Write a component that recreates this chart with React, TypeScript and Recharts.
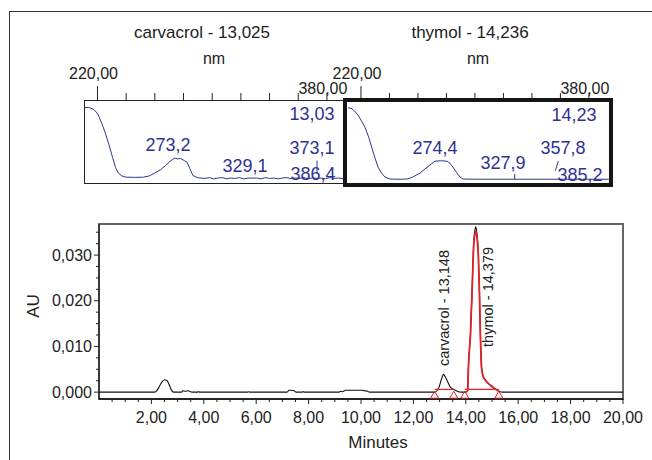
import React from "react";
import {
  ComposedChart,
  LineChart,
  Line,
  Scatter,
  XAxis,
  YAxis,
  ReferenceArea,
  ReferenceLine,
  ReferenceDot,
} from "recharts";

const FONT = '"Liberation Sans", Arial, Helvetica, sans-serif';
const INK = "#222";
const BLUE = "#2b3990";
const LABEL_BLUE = "#2e3192";
const RED = "#e0222b";

// chromatogram, black trace (minutes / AU)
const chromTime = [
  0, 2.1, 2.2, 2.3, 2.4, 2.5, 2.6, 2.68, 2.76, 2.85, 3.15, 3.2, 3.3, 3.4, 3.48, 3.55,
  3.76, 3.8, 3.84, 5.68, 5.71, 5.74, 7.18, 7.25, 7.35, 7.45, 7.52, 7.75, 7.79, 7.83,
  9.15, 9.22, 9.3, 9.4, 9.6, 9.9, 10.05, 10.15, 10.25, 10.32,
  12.81, 12.98, 13.08, 13.148, 13.22, 13.3, 13.41, 13.6, 13.8,
  13.95, 14.07, 14.1, 14.18, 14.25, 14.3, 14.34, 14.379, 14.42, 14.48, 14.52, 14.56,
  14.6, 14.66, 14.75, 14.94, 15.1, 15.26, 15.4, 20,
];
const chromAU = [
  0, 0, 0.0003, 0.0012, 0.0022, 0.0027, 0.0025, 0.0016, 0.0005, 0, 0, 0.0003, 0.0002, 0.0003, 0.0001, 0,
  0, 0.00015, 0, 0, 0.0001, 0, 0, 0.0004, 0.0004, 0.0003, 0, 0, 0.00015, 0,
  0, 0.0002, 0.0001, 0.0004, 0.0004, 0.0004, 0.0004, 0.0003, 0.0002, 0,
  0, 0.0011, 0.0030, 0.0039, 0.0033, 0.0024, 0.0011, 0.0004, 0,
  0, 0.0002, 0.0055, 0.0129, 0.0239, 0.0326, 0.0352, 0.0362, 0.0350, 0.0300, 0.0220, 0.0120,
  0.0055, 0.0035, 0.0026, 0.0015, 0.0008, 0.0002, 0, 0,
];

// thymol peak, red trace
const thymolTime = [
  13.95, 14.07, 14.1, 14.18, 14.25, 14.3, 14.34, 14.379, 14.42, 14.48, 14.52, 14.56,
  14.6, 14.66, 14.75, 14.94, 15.1, 15.26,
];
const thymolAU = [
  0, 0.0002, 0.0055, 0.0129, 0.0239, 0.0320, 0.0344, 0.0352, 0.0342, 0.0296, 0.0218, 0.0118,
  0.0055, 0.0035, 0.0026, 0.0015, 0.0008, 0.0002,
];

// integration start / end markers
const markTime = [12.81, 13.54, 13.96, 15.26];
const carvBaseline = [12.81, 13.54];
const thymBaseline = [13.96, 15.26];

const xMajor = [2, 4, 6, 8, 10, 12, 14, 16, 18, 20];
const xTicks = [
  0.5, 1, 1.5, 2, 2.5, 3, 3.5, 4, 4.5, 5, 5.5, 6, 6.5, 7, 7.5, 8, 8.5, 9, 9.5, 10,
  10.5, 11, 11.5, 12, 12.5, 13, 13.5, 14, 14.5, 15, 15.5, 16, 16.5, 17, 17.5, 18, 18.5, 19, 19.5, 20,
];
const yMajor = [0, 0.01, 0.02, 0.03];
const yTicks = [
  0, 0.0025, 0.005, 0.0075, 0.01, 0.0125, 0.015, 0.0175, 0.02, 0.0225, 0.025, 0.0275,
  0.03, 0.0325, 0.035,
];

// UV spectra (nm / relative absorbance)
const carvNm = [
  210.8, 214, 217, 219, 220.5, 223, 225.5, 228, 230.5, 232.5, 234.5, 237, 240, 246, 252, 256,
  260, 264, 267.5, 270.5, 272.5, 274, 276, 278, 280.5, 282.5, 284.5, 286.5, 289.5,
  292, 295, 298, 301, 304, 307, 310, 313, 316, 319, 322, 325, 328, 331, 334, 337, 340,
  343, 346, 349, 352, 355, 358, 361, 364, 367, 370, 373, 376, 379, 382, 385, 388, 392,
];
const carvAbs = [
  0.91, 0.91, 0.89, 0.86, 0.82, 0.72, 0.6, 0.46, 0.31, 0.19, 0.12, 0.085, 0.07, 0.068, 0.07, 0.085,
  0.12, 0.16, 0.21, 0.26, 0.285, 0.3, 0.29, 0.295, 0.27, 0.25, 0.17, 0.09, 0.065,
  0.06, 0.055, 0.065, 0.05, 0.06, 0.065, 0.05, 0.06, 0.055, 0.065, 0.05, 0.06, 0.058, 0.06, 0.05, 0.065, 0.055,
  0.06, 0.05, 0.06, 0.065, 0.052, 0.06, 0.055, 0.065, 0.05, 0.062, 0.055, 0.06, 0.05, 0.065, 0.055, 0.06, 0.05,
];
const thymNm = [
  211, 213, 215.5, 218, 220.5, 222.8, 225.5, 227.7, 230, 232, 234.5, 236.8, 240.4, 246, 252.3,
  256, 261.4, 265, 268.4, 271.9, 276, 280.4, 282.5, 284.6, 287, 289.5, 291.6, 300, 394,
];
const thymAbs = [
  0.906, 0.905, 0.87, 0.82, 0.75, 0.68, 0.56, 0.435, 0.31, 0.21, 0.14, 0.094, 0.07, 0.068, 0.07,
  0.09, 0.14, 0.19, 0.235, 0.28, 0.285, 0.28, 0.255, 0.21, 0.15, 0.094, 0.07, 0.068, 0.068,
];
const nmTicks = [220, 240, 260, 280, 300, 320, 340, 360, 380];
const nmLabelled = [220, 380];

const zip = (xs: number[], ys: number[], kx: string, ky: string) =>
  xs.map((x, i) => ({ [kx]: x, [ky]: ys[i] }));

const chromData = zip(chromTime, chromAU, "t", "v");
const thymolData = zip(thymolTime, thymolAU, "t", "v");
const markData = markTime.map((t) => ({ t, v: -0.00055 }));
const carvSpec = zip(carvNm, carvAbs, "nm", "a");
const thymSpec = zip(thymNm, thymAbs, "nm", "a");

const comma = (v: number, d: number) => v.toFixed(d).replace(".", ",");

function MinuteTick(props: any) {
  const { x, y, payload } = props;
  const major = xMajor.includes(payload.value);
  return (
    <g>
      <line x1={x} x2={x} y1={y} y2={y + (major ? 5 : 3)} stroke={INK} />
      {major && (
        <text x={x} y={y + 13} dy="0.71em" textAnchor="middle" fontSize={16} fill={INK} fontFamily={FONT}>
          {comma(payload.value, 2)}
        </text>
      )}
    </g>
  );
}

function AuTick(props: any) {
  const { x, y, payload } = props;
  const major = yMajor.includes(payload.value);
  return (
    <g>
      <line x1={x} x2={x - (major ? 5 : 3)} y1={y} y2={y} stroke={INK} />
      {major && (
        <text x={x - 7} y={y} dy="0.35em" textAnchor="end" fontSize={16} fill={INK} fontFamily={FONT}>
          {comma(payload.value, 3)}
        </text>
      )}
    </g>
  );
}

function NmTick(props: any) {
  const { x, y, payload } = props;
  const v = payload.value;
  const first = v === nmLabelled[0];
  const labelled = nmLabelled.includes(v);
  return (
    <g>
      <line x1={x} x2={x} y1={y} y2={y - (first ? 14 : 7)} stroke={INK} />
      {labelled && (
        <text x={x - 4} y={y - (first ? 27 : 12)} dy="0.35em" textAnchor="middle" fontSize={16} fill={INK} fontFamily={FONT}>
          {comma(v, 2)}
        </text>
      )}
    </g>
  );
}

function PeakTag(props: any) {
  const { viewBox, text, shift = 0 } = props;
  const cx = viewBox.x + (viewBox.width || 0) / 2 + shift;
  const cy = viewBox.y + (viewBox.height || 0) / 2;
  return (
    <text
      x={cx}
      y={cy}
      dy="0.35em"
      transform={`rotate(-90 ${cx} ${cy})`}
      textAnchor="start"
      fontSize={14.5}
      fill={INK}
      fontFamily={FONT}
    >
      {text}
    </text>
  );
}

function Triangle(props: any) {
  const { cx, cy } = props;
  return <path d={`M${cx},${cy - 3.5}L${cx + 4},${cy + 3.5}L${cx - 4},${cy + 3.5}Z`} fill="none" stroke={RED} strokeWidth={1} />;
}

function Tag({ x, y, children, size = 16, color = INK, rotate = 0 }: any) {
  return (
    <div
      style={{
        position: "absolute",
        left: x,
        top: y,
        transform: `translate(-50%, -50%)${rotate ? ` rotate(${rotate}deg)` : ""}`,
        fontSize: size,
        color,
        lineHeight: 1,
        whiteSpace: "nowrap",
      }}
    >
      {children}
    </div>
  );
}

export default function App() {
  return (
    <div
      style={{
        position: "absolute",
        left: 0,
        top: 0,
        width: 652,
        height: 460,
        overflow: "hidden",
        background: "#fff",
        fontFamily: FONT,
      }}
    >
      {/* outer frame */}
      <div style={{ position: "absolute", left: 9, top: 11, width: 700, height: 500, border: "1px solid #333" }} />

      {/* carvacrol spectrum */}
      <div style={{ position: "absolute", left: 0, top: 0 }}>
        <LineChart width={652} height={200} margin={{ top: 60, right: 307, bottom: 17, left: 84 }}>
          <XAxis
            dataKey="nm"
            type="number"
            orientation="top"
            domain={[210.6, 392.6]}
            ticks={nmTicks}
            interval={0}
            height={40}
            tickSize={0}
            tickMargin={0}
            tickLine={false}
            axisLine={false}
            tick={<NmTick />}
            allowDataOverflow
          />
          <YAxis hide domain={[0, 1]} allowDataOverflow />
          <Line data={carvSpec} dataKey="a" type="linear" stroke={BLUE} strokeWidth={1} dot={false} activeDot={false} isAnimationActive={false} />
          <ReferenceLine segment={[{ x: 373.1, y: 0.12 }, { x: 373.1, y: 0.27 }]} stroke={BLUE} />
        </LineChart>
      </div>
      <div style={{ position: "absolute", left: 84, top: 100, width: 262, height: 84, border: "1px solid #222", boxSizing: "border-box" }} />

      {/* thymol spectrum */}
      <div style={{ position: "absolute", left: 343, top: 98, width: 270, height: 89, background: "#fff" }} />
      <div style={{ position: "absolute", left: 0, top: 0 }}>
        <LineChart width={652} height={200} margin={{ top: 60, right: 42, bottom: 15, left: 346 }}>
          <XAxis
            dataKey="nm"
            type="number"
            orientation="top"
            domain={[209.5, 394.8]}
            ticks={nmTicks}
            interval={0}
            height={40}
            tickSize={0}
            tickMargin={0}
            tickLine={false}
            axisLine={false}
            tick={<NmTick />}
            allowDataOverflow
          />
          <YAxis hide domain={[0, 1]} allowDataOverflow />
          <Line data={thymSpec} dataKey="a" type="linear" stroke={BLUE} strokeWidth={1} dot={false} activeDot={false} isAnimationActive={false} />
          <ReferenceLine segment={[{ x: 327.9, y: 0.07 }, { x: 327.9, y: 0.13 }]} stroke={BLUE} />
          <ReferenceLine segment={[{ x: 356.5, y: 0.17 }, { x: 358.5, y: 0.28 }]} stroke={BLUE} />
        </LineChart>
      </div>
      <div style={{ position: "absolute", left: 343, top: 98, width: 270, height: 89, border: "4.5px solid #151515", boxSizing: "border-box" }} />

      {/* spectrum titles and labels */}
      <Tag x={202} y={32} size={17}>carvacrol - 13,025</Tag>
      <Tag x={470} y={32} size={17}>thymol - 14,236</Tag>
      <Tag x={214} y={59} size={16}>nm</Tag>
      <Tag x={478} y={59} size={16}>nm</Tag>

      <Tag x={312} y={114} size={18} color={LABEL_BLUE}>13,03</Tag>
      <Tag x={168} y={145} size={18} color={LABEL_BLUE}>273,2</Tag>
      <Tag x={312} y={148} size={18} color={LABEL_BLUE}>373,1</Tag>
      <Tag x={245} y={166} size={18} color={LABEL_BLUE}>329,1</Tag>
      <Tag x={313} y={174} size={18} color={LABEL_BLUE}>386,4</Tag>

      <Tag x={574} y={115} size={18} color={LABEL_BLUE}>14,23</Tag>
      <Tag x={435} y={148} size={18} color={LABEL_BLUE}>274,4</Tag>
      <Tag x={563} y={148} size={18} color={LABEL_BLUE}>357,8</Tag>
      <Tag x={503} y={163} size={18} color={LABEL_BLUE}>327,9</Tag>
      <Tag x={580} y={175} size={18} color={LABEL_BLUE}>385,2</Tag>

      {/* chromatogram */}
      <div style={{ position: "absolute", left: 0, top: 200 }}>
        <ComposedChart width={652} height={260} margin={{ top: 24, right: 29, bottom: 31, left: 39 }}>
          <ReferenceArea
            x1={0}
            x2={20}
            y1={-0.0015}
            y2={0.0368}
            fill="none"
            stroke="#666"
            strokeWidth={2}
            ifOverflow="visible"
          />
          <XAxis
            dataKey="t"
            type="number"
            domain={[0, 20]}
            ticks={xTicks}
            interval={0}
            height={30}
            tickSize={0}
            tickMargin={0}
            tickLine={false}
            axisLine={{ stroke: "#111", strokeWidth: 1.3 }}
            tick={<MinuteTick />}
            allowDataOverflow
          />
          <YAxis
            type="number"
            domain={[-0.0015, 0.0368]}
            ticks={yTicks}
            interval={0}
            width={60}
            tickSize={0}
            tickMargin={0}
            tickLine={false}
            axisLine={{ stroke: "#111" }}
            tick={<AuTick />}
            allowDataOverflow
          />
          <Line data={chromData} dataKey="v" type="monotone" stroke="#111" strokeWidth={1.1} dot={false} activeDot={false} isAnimationActive={false} />
          <Line data={thymolData} dataKey="v" type="monotone" stroke={RED} strokeWidth={1.8} dot={false} activeDot={false} isAnimationActive={false} />
          <ReferenceLine segment={[{ x: carvBaseline[0], y: 0.0006 }, { x: carvBaseline[1], y: 0.0006 }]} stroke={RED} strokeWidth={1.2} />
          <ReferenceLine segment={[{ x: thymBaseline[0], y: 0.0006 }, { x: thymBaseline[1], y: 0.0006 }]} stroke={RED} strokeWidth={1.2} />
          <Scatter data={markData} dataKey="v" shape={<Triangle />} isAnimationActive={false} />
          <ReferenceDot x={13.148} y={0.0057} r={1} fill="none" stroke="none" label={<PeakTag text="carvacrol - 13,148" />} />
          <ReferenceDot x={14.379} y={0.0099} r={1} fill="none" stroke="none" label={<PeakTag text="thymol - 14,379" shift={12} />} />
        </ComposedChart>
      </div>

      <Tag x={33} y={306} size={17} rotate={-90}>AU</Tag>
      <Tag x={378} y={442} size={17}>Minutes</Tag>
    </div>
  );
}
